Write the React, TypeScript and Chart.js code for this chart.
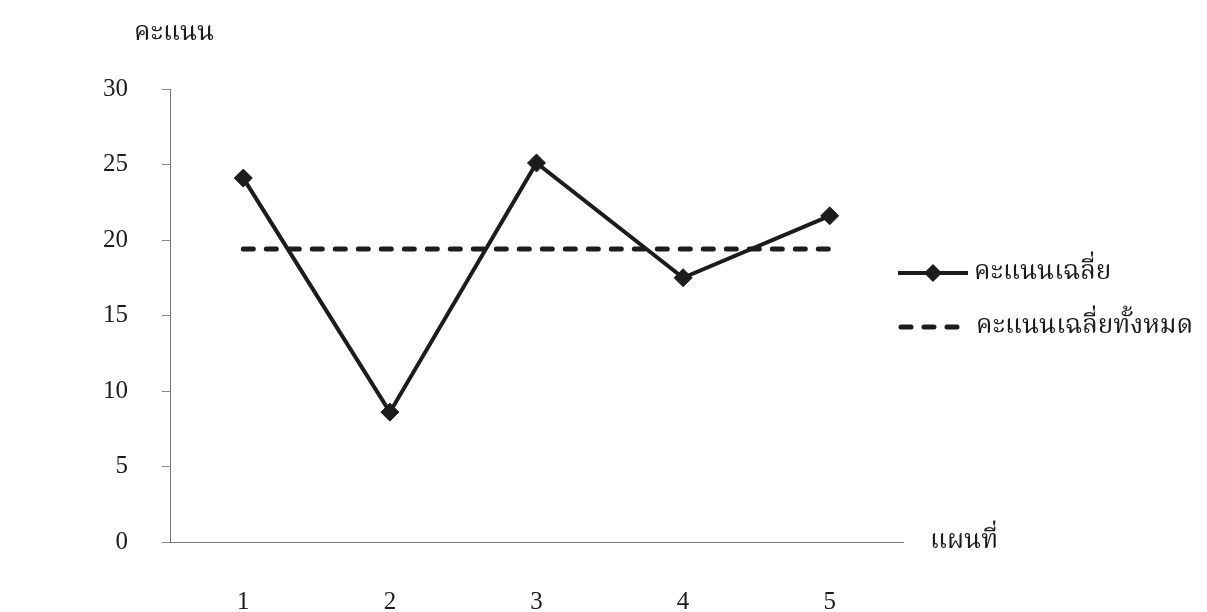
import React, { useEffect, useRef } from "react";
import { Chart, registerables } from "chart.js";

Chart.register(...registerables);

const categories = ["1", "2", "3", "4", "5"];
const avgScores = [24.1, 8.6, 25.1, 17.5, 21.6];
const overallAvg = [19.4, 19.4, 19.4, 19.4, 19.4];
const seriesLabels = ["คะแนนเฉลี่ย", "คะแนนเฉลี่ยทั้งหมด"];
const yTitle = "คะแนน";
const xTitle = "แผนที่";
const yMin = 0;
const yMax = 30;
const yStep = 5;

const FONT = "'Liberation Serif', 'Noto Serif Thai', 'Noto Sans Thai', serif";
const INK = "#1c1c1c";

const overlayPlugin = {
  id: "overlay",
  afterDraw(chart: any) {
    const { ctx, chartArea } = chart;
    ctx.save();
    ctx.fillStyle = INK;
    ctx.textBaseline = "alphabetic";
    ctx.textAlign = "left";
    ctx.font = `26px ${FONT}`;
    ctx.fillText(yTitle, chartArea.left - 36, chartArea.top - 49);
    ctx.fillText(xTitle, chartArea.right + 27, chartArea.bottom + 6);

    // legend
    const lx0 = chartArea.right - 5;
    const lx1 = chartArea.right + 65;
    chart.data.datasets.forEach((ds: any, i: number) => {
      const y = chartArea.top + 184 + i * 54;
      ctx.strokeStyle = INK;
      ctx.lineWidth = ds.borderWidth;
      ctx.lineCap = ds.borderCapStyle || "butt";
      ctx.setLineDash(ds.borderDash || []);
      ctx.beginPath();
      ctx.moveTo(lx0 + (i === 1 ? 3 : 0), y);
      ctx.lineTo(i === 1 ? lx1 - 8 : lx1, y);
      ctx.stroke();
      ctx.setLineDash([]);
      if (ds.pointRadius > 0) {
        const cx = (lx0 + lx1) / 2;
        const r = ds.pointRadius;
        ctx.fillStyle = INK;
        ctx.beginPath();
        ctx.moveTo(cx - r, y);
        ctx.lineTo(cx, y - r);
        ctx.lineTo(cx + r, y);
        ctx.lineTo(cx, y + r);
        ctx.closePath();
        ctx.fill();
      }
      ctx.fillStyle = INK;
      ctx.font = `26px ${FONT}`;
      ctx.textBaseline = "middle";
      ctx.fillText(ds.label, lx1 + 6 + (i === 1 ? 2 : 0), y - 1);
    });
    ctx.restore();
  },
};

export default function App() {
  const ref = useRef<HTMLCanvasElement | null>(null);
  useEffect(() => {
    if (!ref.current) return;
    const chart = new Chart(ref.current, {
      type: "line",
      data: {
        labels: categories,
        datasets: [
          {
            label: seriesLabels[0],
            data: avgScores,
            borderColor: INK,
            backgroundColor: INK,
            borderWidth: 4,
            pointStyle: "rectRot",
            pointRadius: 9,
            pointBackgroundColor: INK,
            pointBorderColor: INK,
            pointBorderWidth: 1,
            tension: 0,
            fill: false,
          },
          {
            label: seriesLabels[1],
            data: overallAvg,
            borderColor: INK,
            borderWidth: 5,
            borderDash: [10, 13],
            borderCapStyle: "round",
            pointRadius: 0,
            tension: 0,
            fill: false,
          },
        ],
      },
      options: {
        animation: false,
        responsive: true,
        maintainAspectRatio: false,
        layout: { padding: { left: 0, right: 304, top: 89, bottom: 0 } },
        plugins: {
          legend: { display: false },
          tooltip: { enabled: false },
        },
        scales: {
          x: {
            type: "category",
            offset: true,
            grid: { display: false, drawTicks: false },
            border: { display: true, color: "#777", width: 1, dash: [2, 1] },
            ticks: {
              color: INK,
              font: { family: FONT, size: 25 },
              padding: 45,
              maxRotation: 0,
            },
            afterFit(scale: any) {
              scale.height = 70;
            },
          },
          y: {
            min: yMin,
            max: yMax,
            grid: {
              display: true,
              drawOnChartArea: false,
              drawTicks: true,
              tickLength: 8,
              color: "#888",
            },
            border: { display: true, color: "#777", width: 1, dash: [2, 1] },
            ticks: {
              stepSize: yStep,
              color: INK,
              font: { family: FONT, size: 25 },
              padding: 34,
            },
            afterFit(scale: any) {
              scale.width = 170;
            },
          },
        },
      },
      plugins: [overlayPlugin],
    });
    return () => chart.destroy();
  }, []);
  return (
    <div style={{ position: "absolute", left: 0, top: 0, width: 1207, height: 612, background: "#fff" }}>
      <canvas ref={ref} />
    </div>
  );
}
